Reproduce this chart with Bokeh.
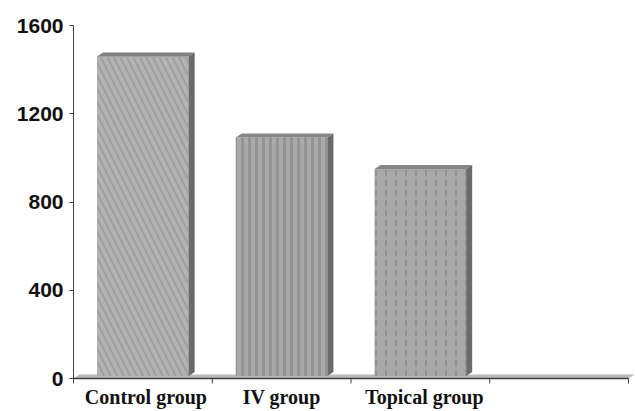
from bokeh.plotting import figure
from bokeh.models import FixedTicker, Range1d
from bokeh.embed import file_html
from bokeh.resources import INLINE

categories = ["Control group", "IV group", "Topical group"]
values = [1460, 1092, 950]
y_ticks = [0, 400, 800, 1200, 1600]
n_slots = 4

# ---- layout / styling (not data) ----
W, H = 635, 411
frame_left, frame_top = 73, 25
zero_px = 378                      # pixel row of value 0
last_tick_px = 628                 # pixel column of last x tick
px_per_unit = (zero_px - frame_top) / y_ticks[-1]
y_start = -(H - zero_px) / px_per_unit
px_per_slot = (last_tick_px - frame_left) / n_slots
x_end = (W - frame_left) / px_per_slot

bar_width = 0.66
dx = 6 / px_per_slot               # depth offset (x, data units)
dy = 4 / px_per_unit               # depth offset (y, data units)
tick_len = 5 / px_per_unit
front_fill = ["#9d9d9d", "#a9a9a9", "#a8a8a8"]
hatch_pat = ["left_diagonal_line", "vertical_line", "vertical_dash"]
hatch_col = ["#b3b3b3", "#939393", "#939393"]
hatch_scale = [13, 7, 10]
hatch_weight = [4, 3, 2]
top_fill = ["#7f7f7f", "#868686", "#858585"]
side_fill = "#6a6a6a"
axis_col = "#404040"
label_x_shift = [3, 0, 4]          # small pixel nudges of the category labels

p = figure(width=W, height=H, output_backend="svg", toolbar_location=None,
           x_range=Range1d(0, x_end), y_range=Range1d(y_start, y_ticks[-1]),
           x_axis_location=None,
           min_border_left=frame_left, min_border_right=0, min_border_top=frame_top,
           min_border_bottom=0)
p.xgrid.visible = False
p.ygrid.visible = False
p.outline_line_color = None
p.background_fill_color = "white"
p.border_fill_color = "white"

centers = [i + 0.5 for i in range(len(categories))]
lefts = [c - bar_width / 2 for c in centers]
rights = [c + bar_width / 2 for c in centers]

# floor
p.patch([0, n_slots, n_slots + dx, dx], [0, 0, dy, dy], fill_color="#bababa",
        line_color=None)

for i in range(len(categories)):
    l, r, t = lefts[i], rights[i], values[i]
    b = dy * 0.6
    p.quad(left=[l], right=[r], bottom=[b], top=[t], fill_color=front_fill[i],
           line_color=None, hatch_pattern=hatch_pat[i], hatch_color=hatch_col[i],
           hatch_scale=hatch_scale[i], hatch_weight=hatch_weight[i])
    p.patch([l, l + dx, r + dx, r], [t, t + dy, t + dy, t], fill_color=top_fill[i],
            line_color=None)
    p.patch([r, r + dx, r + dx, r], [b, b + dy, t + dy, t], fill_color=side_fill,
            line_color=None)

# x axis (drawn at value 0)
p.segment(x0=[0], y0=[0], x1=[n_slots], y1=[0], line_color=axis_col, line_width=1.5)
xt = list(range(1, n_slots + 1))
p.segment(x0=xt, y0=[0] * len(xt), x1=xt, y1=[-tick_len] * len(xt),
          line_color=axis_col, line_width=1)
p.text(x=centers, y=[0] * len(categories), text=categories, y_offset=18,
       x_offset=label_x_shift,
       text_align="center", text_baseline="alphabetic",
       text_font={"value": "Liberation Serif"}, text_font_style="bold",
       text_font_size={"value": "20px"}, text_color="#111111")

# y axis
p.yaxis.ticker = FixedTicker(ticks=y_ticks)
p.yaxis.bounds = (-tick_len, y_ticks[-1])
p.yaxis.axis_line_color = axis_col
p.yaxis.major_tick_line_color = axis_col
p.yaxis.major_tick_out = 4
p.yaxis.major_tick_in = 0
p.yaxis.minor_tick_line_color = None
p.yaxis.major_label_standoff = 6
p.yaxis.major_label_text_font = "Liberation Sans"
p.yaxis.major_label_text_font_style = "bold"
p.yaxis.major_label_text_font_size = "21px"
p.yaxis.major_label_text_color = "#111111"

open("out.html", "w").write(file_html(p, INLINE))
